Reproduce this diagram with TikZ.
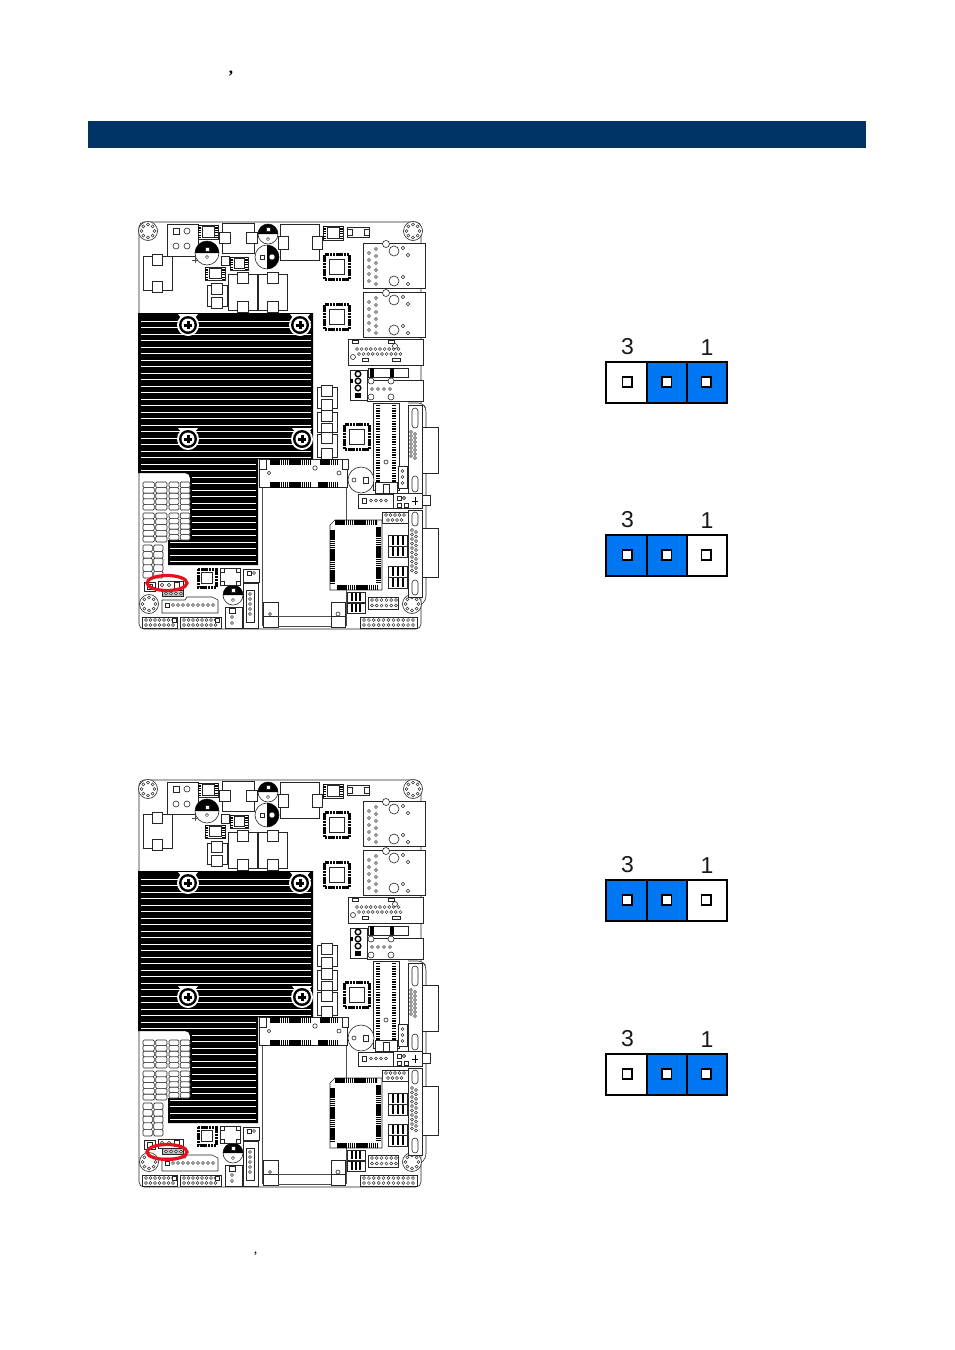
\documentclass[tikz,border=0pt]{standalone}
\usepackage{fontspec}
\setmainfont{Liberation Sans}
\newfontfamily\commafont{Liberation Serif}
\definecolor{bandblue}{HTML}{003366}
\definecolor{jumpblue}{HTML}{0077F2}
\definecolor{ringred}{HTML}{E8101C}
\tikzset{
  part/.style={draw=black!85,fill=white,line width=0.6pt},
  thinline/.style={draw=black!70,line width=0.6pt},
  pinc/.style={draw=black!80,fill=white,line width=0.5pt},
  sink/.style={fill=black,draw=none},
  fin/.style={draw=white,line width=0.9pt},
  comb/.style={draw=black,dash pattern=on 1.6pt off 0.5pt},
  slotcomb/.style={draw=black,dash pattern=on 1.4pt off 1.2pt},
  redring/.style={draw=ringred,line width=3.2pt},
  pinbox/.style={fill=white,draw=black,line width=1.7pt},
  jcell/.style={draw=black,line width=2pt},
  digit/.style={font=\fontsize{23}{23}\selectfont,inner sep=0pt,text=black!90},
}
\newcommand\Bx[4]{\draw[part] (#1,#2) rectangle (#3,#4);}
\newcommand\Rd[3]{\draw[part] (#1,#2) circle[radius=#3pt];}
\newcommand\PinRow[4]{\foreach \i in {1,...,#3}{\draw[pinc] ({#1+(\i-1)*#4},#2) circle[radius=1.5pt];}}
\newcommand\PinCol[4]{\foreach \i in {1,...,#3}{\draw[pinc] (#1,{#2+(\i-1)*#4}) circle[radius=1.5pt];}}
\newcommand\Comb[5]{\draw[comb,line width=#5pt] (#1,#2) -- (#3,#4);}
\newcommand\Qfp[3]{%
  \draw[black,line width=3pt,dash pattern=on 2.2pt off 0.6pt] ({#1-#3},{#2-#3}) rectangle ({#1+#3},{#2+#3});
  \draw[part] ({#1-#3*0.62},{#2-#3*0.62}) rectangle ({#1+#3*0.62},{#2+#3*0.62});}
\newcommand\Hole[2]{%
  \Rd{#1}{#2}{9.5}
  \foreach \a in {0,45,...,315}{\draw[pinc] ($(#1,#2)+(\a:6.5pt)$) circle[radius=1.5pt];}}
\newcommand\Screw[2]{%
  \fill[white] ({#1-10},{#2-11}) -- ({#1+10},{#2-11}) -- ({#1+6},{#2-6}) -- ({#1-6},{#2-6}) -- cycle;
  \fill[white] (#1,#2) circle[radius=11pt];
  \fill[black] (#1,#2) circle[radius=9pt];
  \fill[white] (#1,#2) circle[radius=6.5pt];
  \draw[black,line width=3pt] ({#1-4},#2) -- ({#1+4},#2) (#1,{#2-4}) -- (#1,{#2+4});}
\newcommand\Cap[5]{% x y r start-angle pin-offset
  \Rd{#1}{#2}{#3}
  \fill[black] (#1,#2) ++(#4:#3pt) arc[start angle=#4,delta angle=180,radius=#3pt] -- cycle;
  \draw[part] ({#1-2},{#2+#5-2}) rectangle ({#1+2},{#2+#5+2});
  \draw[pinc] (#1,{#2-#5}) circle[radius=1.6pt];}
\newcommand\Inductor[4]{% x1 y1 x2 y2, tabs on top and bottom
  \Bx{#1}{#2}{#3}{#4}
  \Bx{({#1+#3)/2-5.5}}{{#2-2}}{({#1+#3)/2+5.5}}{{#2+9}}
  \Bx{({#1+#3)/2-5.5}}{{#4-9}}{({#1+#3)/2+5.5}}{{#4+2}}}
\newcommand\Smd[4]{% small chip with pins
  \Bx{#1}{#2}{#3}{#4}
  \draw[black,line width=3pt,dash pattern=on 1.2pt off 1.2pt] ({#1+1.5},#2) -- ({#1+1.5},#4) ({#3-1.5},#2) -- ({#3-1.5},#4);
  \draw[part] ({#1+4},{#2+1.5}) rectangle ({#3-4},{#4-1.5});}
\newcommand\Mem[4]{% memory block with two columns of rounded bars
  \foreach \k in {1,...,5}{
    \draw[part,rounded corners=1.2pt] (#1,{#2+(#4-#2)*(\k-1)/5}) rectangle ({(#1+#3)/2-0.7},{#2+(#4-#2)*\k/5});
    \draw[part,rounded corners=1.2pt] ({(#1+#3)/2+0.7},{#2+(#4-#2)*(\k-1)/5}) rectangle (#3,{#2+(#4-#2)*\k/5});}}
\newcommand\Jack[2]{% network jack with top-left corner x,y
  \Bx{#1}{#2}{#1+62}{#2+45}
  \Rd{#1+23}{#2+1}{3.5}\Rd{#1+31}{#2+8}{5}\Rd{#1+31}{#2+38}{5}
  \Rd{#1+40}{#2+5}{1.8}\Rd{#1+45}{#2+12}{1.8}\Rd{#1+40}{#2+34}{1.8}\Rd{#1+45}{#2+41}{1.8}
  \PinCol{#1+6}{#2+10}{5}{7}\PinCol{#1+13}{#2+6}{6}{7}}
\newcommand\BoardBody{%
  % outline
  \draw[part,rounded corners=5pt] (139,222) rectangle (421,629);
  % heat sink
  \fill[sink] (138,313) -- (313,313) -- (313,459) -- (258,459) -- (258,565) -- (168,565)
     -- (168,540) -- (185,540) to[out=0,in=-90] (190,535) -- (190,478) to[out=90,in=0] (185,473) -- (138,473) -- cycle;
  \foreach \k in {0,...,21}{\draw[fin] (141,{321+6.5*\k}) -- (311,{321+6.5*\k});}
  \foreach \k in {22,...,23}{\draw[fin] (141,{321+6.5*\k}) -- (256,{321+6.5*\k});}
  \foreach \k in {24,...,33}{\draw[fin] (192,{321+6.5*\k}) -- (256,{321+6.5*\k});}
  \foreach \k in {34,...,37}{\draw[fin] (170,{321+6.5*\k}) -- (256,{321+6.5*\k});}
  \Screw{188}{325}\Screw{300}{325}\Screw{188}{439}\Screw{302}{439}
  % mounting holes
  \Hole{148}{231}\Hole{413}{231}\Hole{149}{604}\Hole{412}{604}
  % top connectors
  \Bx{167}{224}{198}{256}
  \Bx{173}{228}{179}{234}\Rd{187}{231}{3}\Rd{176}{246}{3}\Rd{187}{246}{3}
  \Smd{198}{225}{218}{239}
  \Bx{222}{223}{254}{253}\Bx{219}{232}{230}{243}\Bx{246}{232}{257}{243}
  \Cap{207}{253}{12}{0}{-4}
  \draw[thinline] (192,260) -- (198,260) (195,257) -- (195,263);
  \Cap{268}{234}{10}{0}{-5}
  \Rd{267}{257}{12}
  \fill[black] (267,245) arc[start angle=90,end angle=-90,radius=12pt] -- cycle;
  \Rd{272}{257}{3}\Bx{260}{255}{264}{259}
  \Bx{280}{224}{319}{260}\Bx{278}{236}{288}{249}\Bx{312}{236}{322}{249}
  \Smd{323}{226}{343}{240}
  \Bx{347}{227}{369}{237}\Bx{347}{229}{352}{235}\Bx{364}{229}{369}{235}
  \Qfp{337}{267}{12.5}\Qfp{337}{317}{12.5}
  \Jack{363}{243}\Jack{363}{292}
  % serial connector
  \Bx{348}{339}{423}{365}
  \PinRow{357}{349}{10}{4.6}\PinRow{359}{354}{10}{4.6}
  \Rd{395}{346}{2.5}\Rd{353}{357}{2.5}
  \Bx{352}{340}{358}{343}\Bx{388}{340}{394}{343}\Bx{362}{358}{368}{361}\Bx{392}{358}{400}{361}
  % left parts
  \Bx{143}{256}{172}{290}\Bx{152}{254}{162}{265}\Bx{152}{281}{162}{292}
  \Smd{205}{267}{225}{280}\Smd{230}{257}{248}{270}
  \Bx{221}{256}{229}{265}
  \Inductor{207}{285}{227}{306}
  \Inductor{228}{274}{257}{310}
  \Inductor{258}{274}{287}{310}
  % middle right
  \Bx{350}{370}{367}{400}
  \foreach \y/\r in {374/2.8,381/2.8,388/2.8}{\draw[black,line width=1.4pt,fill=white] (358,\y) circle[radius=\r pt];}
  \fill[black] (355,393) rectangle (361,398);
  \fill[black] (350,379) rectangle (353,383);
  \Bx{368}{368}{408}{377}
  \Comb{372}{368}{372}{377}{4}\Comb{392}{368}{392}{377}{4}
  \Bx{367}{380}{423}{401}
  \PinRow{372}{389}{4}{6}\Rd{371}{381}{3}\Rd{391}{381}{3}\Rd{371}{397}{3}\Rd{391}{397}{3}
  \Inductor{317}{387}{337}{408}
  \Inductor{317}{412}{337}{432}
  \Inductor{317}{434}{337}{457}
  \Qfp{357}{437}{12.5}
  % right edge parts
  \draw[part,rounded corners=4pt] (408,403) -- (422,403) -- (426,408) -- (426,600) -- (422,604);
  \Bx{422}{427}{438}{473}\Bx{422}{528}{438}{577}\Bx{422}{495}{430}{505}
  \Bx{408}{405}{422}{496}\Bx{408}{510}{422}{597}
  \draw[part,rounded corners=3pt] (412,408) rectangle (418,428);
  \draw[part,rounded corners=3pt] (412,476) rectangle (418,492);
  \draw[part,rounded corners=3pt] (412,512) rectangle (418,526);
  \draw[part,rounded corners=3pt] (412,580) rectangle (418,595);
  \PinCol{411}{432}{7}{4}\PinCol{415}{434}{7}{4}
  \PinCol{412}{530}{10}{4.5}\PinCol{416}{532}{10}{4.5}
  % vertical slot
  \Bx{373}{403}{399}{490}
  \draw[slotcomb,line width=4.5pt] (378,405) -- (378,482);
  \draw[slotcomb,line width=4.5pt] (394,405) -- (394,482);
  \Bx{375}{482}{397}{493}\Bx{383}{484}{389}{493}
  \Rd{386}{462}{2}
  \Bx{398}{466}{407}{488}\PinCol{402.5}{471}{3}{6}
  % mini card slot
  \draw[thinline] (262,460) -- (262,626) (346,460) -- (346,626);
  \Bx{259}{459}{347}{487}
  \Comb{270}{462}{310}{462}{6}\Comb{320}{462}{338}{462}{6}
  \Comb{270}{485}{310}{485}{6}\Comb{318}{485}{337}{485}{6}
  \Bx{259}{459}{266}{469}\Bx{342}{459}{348}{469}
  \Rd{269}{473}{1.8}\Rd{315}{468}{2.2}\Rd{339}{473}{2}
  \Rd{361}{480}{13}\Rd{354}{480}{2}\Bx{363}{477}{368}{483}
  \Bx{358}{494}{393}{508}
  \Bx{362}{498}{366}{503}\PinRow{371}{500.5}{4}{5}
  \Bx{393}{493}{422}{508}
  \Bx{397}{496}{401}{500}\Rd{404}{498}{1.6}\Bx{397}{503}{401}{507}\Bx{404}{503}{408}{507}
  \draw[black,line width=1pt] (415,497) -- (415,505) (412,501) -- (418,501);
  \Bx{382}{512}{408}{523}
  \PinRow{386}{515}{5}{4.5}\PinRow{388}{520}{4}{4.5}
  % large socket
  \draw[part] (335,520) -- (382,520) -- (382,590) -- (330,590) -- (330,525) -- cycle;
  \Comb{335}{522.5}{377}{522.5}{5}\Comb{337}{587}{378}{587}{5}
  \Comb{332.5}{530}{332.5}{583}{5}\Comb{378.5}{527}{378.5}{582}{5}
  % small coils
  \foreach \cy in {535,546,566,577}{%
    \Bx{388}{\cy}{407}{\cy+11}
    \fill[black] (392,\cy+1) rectangle (394,\cy+10);
    \fill[black] (397,\cy+1) rectangle (399,\cy+10);
    \fill[black] (402,\cy+1) rectangle (404,\cy+10);}
  \foreach \cy in {592,603}{%
    \Bx{347}{\cy}{365}{\cy+10}
    \fill[black] (351,\cy+1) rectangle (353,\cy+9);
    \fill[black] (355,\cy+1) rectangle (357,\cy+9);
    \fill[black] (359,\cy+1) rectangle (361,\cy+9);}
  \Bx{368}{597}{398}{609}
  \PinRow{372}{600}{6}{4.8}\PinRow{372}{605.5}{6}{4.8}
  % bottom headers
  \Bx{360}{617}{417}{628}
  \PinRow{364}{620}{11}{4.9}\PinRow{364}{625}{11}{4.9}
  \Bx{142}{617}{177}{628}
  \PinRow{146}{620}{7}{4.5}\PinRow{146}{625}{7}{4.5}\Bx{172}{618}{176}{622}
  \Bx{180}{617}{221}{628}
  \PinRow{184}{620}{8}{4.5}\PinRow{184}{625}{8}{4.5}\Bx{215}{618}{219}{622}
  \draw[part] (162,600) -- (185,600) -- (187,597) -- (212,597) -- (218,600) -- (218,613) -- (162,613) -- cycle;
  \Bx{165}{603}{169}{607}\PinRow{173}{605}{9}{5}
  \Cap{233}{595}{10}{0}{-5}
  \Bx{225}{607}{242}{628}\Bx{229}{608}{235}{613}\PinCol{232}{617}{2}{6}
  \Bx{243}{583}{258}{628}\Bx{246}{590}{254}{622}
  \PinCol{250}{594}{5}{5}
  \Bx{263}{602}{278}{627}\Bx{263}{602}{278}{616}\Rd{270}{614}{1.5}
  \Bx{331}{602}{345}{627}\Bx{331}{602}{345}{616}\Rd{338}{614}{2}
  \draw[thinline] (278,616) -- (331,616) (278,626) -- (331,626);
  % area of the small regulator
  \Qfp{207}{578}{9}
  \Bx{220}{568}{240}{585}
  \Bx{220}{568}{224}{572}\Bx{236}{568}{240}{572}\Bx{220}{581}{224}{585}\Bx{236}{581}{240}{585}
  \Bx{243}{569}{259}{582}\Bx{247}{571}{251}{575}\Rd{254}{573}{1.5}
  % memory blocks
  \Mem{143}{482}{167}{510}\Mem{169}{482}{190}{510}
  \Mem{143}{513}{167}{542}\Mem{169}{513}{190}{540}
  \Mem{143}{545}{163}{578}
  % headers near the ring
  \Bx{144}{582}{155}{591}\Bx{147}{584}{152}{589}
  \Bx{158}{581}{183}{590}
  \Rd{162}{585}{1.8}\Rd{169}{585}{1.8}\Bx{174}{582}{179}{588}
  \draw[part,fill=black!25] (162,590.5) rectangle (183,596.5);
  \PinRow{166}{593.5}{4}{5}
}
\newcommand\Jumper[6]{% name, y top, fill 3, fill 2, fill 1
  \draw[jcell,fill=#3] (606,#2) rectangle (647,{#2+41});
  \draw[jcell,fill=#4] (647,#2) rectangle (686.5,{#2+41});
  \draw[jcell,fill=#5] (686.5,#2) rectangle (727,{#2+41});
  \draw[pinbox] (622.5,{#2+15}) rectangle (632,{#2+25});
  \draw[pinbox] (662,{#2+15}) rectangle (671.5,{#2+25});
  \draw[pinbox] (701.5,{#2+15}) rectangle (711,{#2+25});
  \node[digit] (#1three) at (627.5,{#2-15}) {3};
  \node[digit] (#1one) at (707,{#2-14.5}) {1};
}
\usetikzlibrary{calc}
\begin{document}
\begin{tikzpicture}[x=1pt,y=-1pt]
  \useasboundingbox (0,0) rectangle (954,1350);
  \fill[white] (0,0) rectangle (954,1350);
  \node[inner sep=0pt,font=\commafont\bfseries\fontsize{17}{17}\selectfont] (commaA) at (231,74) {,};
  \node[inner sep=0pt,font=\commafont\fontsize{14}{14}\selectfont] (commaB) at (255.5,1254) {,};
  \fill[bandblue] (88,121) rectangle (866,148);
  \begin{scope}
    \BoardBody
    \draw[redring] (167,583) ellipse [x radius=20pt,y radius=7.5pt];
  \end{scope}
  \begin{scope}[shift={(0,558)}]
    \BoardBody
    \draw[redring] (167,594) ellipse [x radius=20pt,y radius=7.5pt];
  \end{scope}
  \Jumper{ja}{362}{white}{jumpblue}{jumpblue}{}
  \Jumper{jb}{535}{jumpblue}{jumpblue}{white}{}
  \Jumper{jc}{880}{jumpblue}{jumpblue}{white}{}
  \Jumper{jd}{1054}{white}{jumpblue}{jumpblue}{}
\end{tikzpicture}
\end{document}
